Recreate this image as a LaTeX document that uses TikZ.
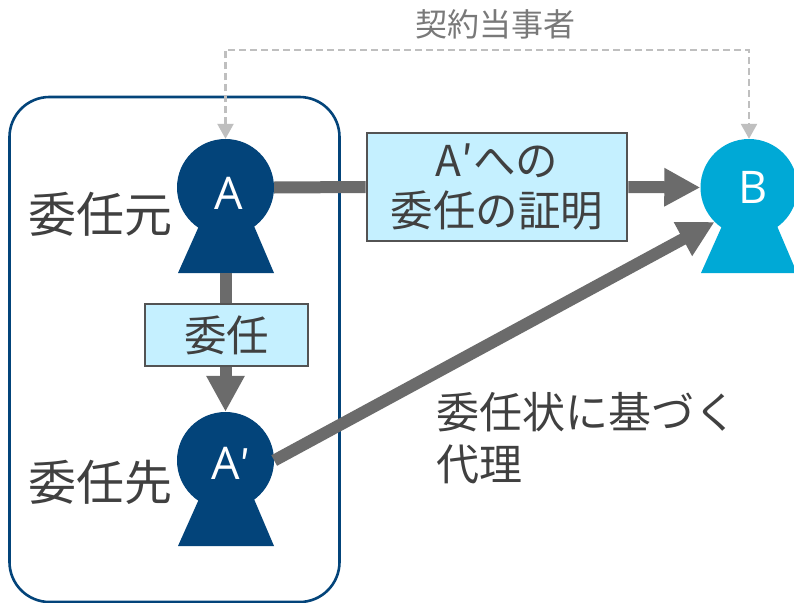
\documentclass[tikz,border=0pt]{standalone}
\usepackage{fontspec}
\setmainfont{Open Sans}
\newfontfamily\cjk{Noto Sans CJK JP}
\usetikzlibrary{arrows.meta}
\definecolor{navy}{HTML}{03447A}
\definecolor{sky}{HTML}{00A9D6}
\definecolor{pale}{HTML}{C5F0FF}
\definecolor{arrowgrey}{HTML}{6B6B6B}
\definecolor{dashgrey}{HTML}{BFBFBF}
\definecolor{textgrey}{HTML}{404040}
\tikzset{
  x=1pt,y=-1pt,
  head/.style={circle,minimum size=97pt,inner sep=0pt,text=white,font=\fontsize{45}{48}\selectfont},
  thick arrow/.style={draw=arrowgrey,line width=12pt},
  tipped/.style={thick arrow,-{Triangle[length=36pt,width=36pt]}},
  labelbox/.style={draw=textgrey!90,line width=2.8pt,fill=pale,text=textgrey,inner sep=0pt,align=center,font=\cjk\fontsize{42.5}{50}\selectfont},
  plain/.style={text=textgrey,inner sep=0pt,align=left,font=\cjk\fontsize{43}{52}\selectfont},
  role/.style={text=textgrey,inner sep=0pt,font=\cjk\fontsize{48}{52}\selectfont},
  dashline/.style={draw=dashgrey,line width=2.4pt,dash pattern=on 7pt off 4pt,{Triangle[length=15pt,width=16pt]}-{Triangle[length=15pt,width=16pt]}},
}
\begin{document}
\begin{tikzpicture}
\useasboundingbox (0,0) rectangle (794,602);
\clip (0,0) rectangle (794,602);
\fill[white] (0,0) rectangle (794,602);
% group frame
\node[draw=navy,line width=2.6pt,rounded corners=40pt,minimum width=330pt,minimum height=505pt,inner sep=0pt] (group) at (174.5,349.5) {};
% persons
\fill[navy] (199,226) -- (178,273) -- (274,273) -- (254,226) -- cycle;
\fill[navy] (199,499) -- (178,546) -- (274,546) -- (254,499) -- cycle;
\fill[sky] (722,226) -- (701,273) -- (797,273) -- (777,226) -- cycle;
\node[head,fill=navy] (A) at (225.5,187.5) {};
\node[head,fill=navy] (Ap) at (225.5,460.5) {};
\node[head,fill=sky] (B) at (749,187.5) {};
\node[text=white,inner sep=0pt,font=\fontsize{45}{48}\selectfont] (Atext) at (229,193) {A};
\node[text=white,inner sep=0pt,font=\fontsize{45}{48}\selectfont] (Aptext) at (231,463) {A{\cjk\fontsize{40}{48}\selectfont ′}};
\node[text=white,inner sep=0pt,font=\fontsize{45}{48}\selectfont] (Btext) at (753,187) {B};
% boxes
\node[labelbox,minimum width=260pt,minimum height=108pt] (proof) at (497,187) {A′への\\委任の証明};
\node[labelbox,minimum width=163pt,minimum height=62pt] (deleg) at (226.5,335) {委任};
% connectors
\coordinate (top) at (0,50);
\draw[dashline] (A.north) -- (A.north |- top) -- (B.north |- top) -- (B.north);
\draw[thick arrow] (A.east) -- (proof.west);
\draw[tipped] (proof.east) -- (B.west);
\draw[thick arrow] (A |- 0,273) -- (deleg.north -| A);
\draw[tipped] (deleg.south -| A) -- (Ap.north);
\draw[tipped] (Ap.east) -- (B.225);
% labels
\node[text=gray!95!black,inner sep=0pt,font=\cjk\fontsize{32}{36}\selectfont] (parties) at (495,24) {契約当事者};
\node[role] (src) at (100.5,214) {委任元};
\node[role] (dst) at (100.5,482) {委任先};
\node[plain,anchor=west] (via) at (436.5,438) {委任状に基づく\\代理};
\end{tikzpicture}
\end{document}
